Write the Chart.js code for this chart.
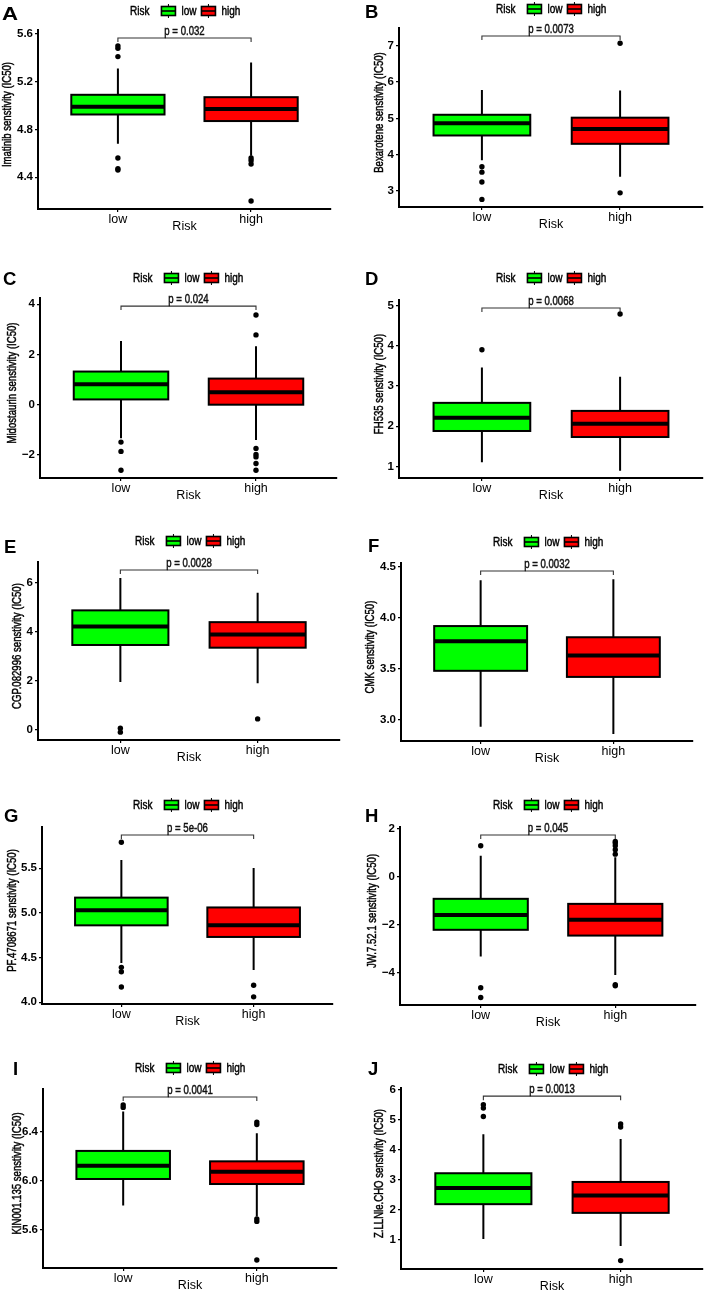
<!DOCTYPE html>
<html>
<head>
<meta charset="utf-8">
<script src="https://cdn.jsdelivr.net/npm/chart.js@4.4.1/dist/chart.umd.min.js"></script>
<style>
  html, body { margin: 0; padding: 0; background: #fff; overflow: hidden; }
  #fig { position: relative; width: 706px; height: 1292px; }
  #fig canvas { position: absolute; }
</style>
</head>
<body>
<div id="fig"></div>
<script>
// ═══════════════════════════════════════
//  data
// ═══════════════════════════════════════
const riskGroups   = ["low", "high"];
const groupColors  = ["#00ff00", "#ff0000"];
const panelLetters = ["A", "B", "C", "D", "E", "F", "G", "H", "I", "J"];
const drugs        = ["Imatinib", "Bexarotene", "Midostaurin", "FH535", "CGP.082996",
                      "CMK", "PF.4708671", "JW.7.52.1", "KIN001.135", "Z.LLNle.CHO"];
const pValues      = ["0.032", "0.0073", "0.024", "0.0068", "0.0028",
                      "0.0032", "5e-06", "0.045", "0.0041", "0.0013"];

// [lower whisker, Q1, median, Q3, upper whisker]
const lowStats = [
  [4.68, 4.925, 4.99, 5.09, 5.31],
  [3.85, 4.53, 4.87, 5.10, 5.78],
  [-1.34, 0.21, 0.81, 1.32, 2.54],
  [1.10, 1.88, 2.21, 2.58, 3.46],
  [1.95, 3.46, 4.21, 4.87, 6.19],
  [2.93, 3.48, 3.77, 3.92, 4.37],
  [4.44, 4.86, 5.03, 5.17, 5.59],
  [-3.33, -2.22, -1.60, -0.93, 0.86],
  [5.80, 6.016, 6.125, 6.245, 6.566],
  [1.03, 2.19, 2.73, 3.22, 4.52]
];
const highStats = [
  [4.58, 4.87, 4.97, 5.07, 5.36],
  [3.39, 4.30, 4.71, 5.02, 5.77],
  [-1.41, 0.0, 0.50, 1.04, 2.33],
  [0.89, 1.73, 2.06, 2.38, 3.23],
  [1.90, 3.35, 3.89, 4.39, 5.59],
  [2.86, 3.42, 3.63, 3.81, 4.38],
  [4.36, 4.73, 4.86, 5.06, 5.50],
  [-4.10, -2.46, -1.80, -1.14, 0.80],
  [5.71, 5.975, 6.076, 6.16, 6.39],
  [0.80, 1.90, 2.48, 2.93, 4.36]
];
const lowOutliers = [
  [5.50, 5.48, 5.41, 4.56, 4.47, 4.46],
  [3.67, 3.52, 3.25, 2.77],
  [-1.49, -1.86, -2.61],
  [3.90],
  [0.07, -0.09],
  [],
  [5.79, 4.39, 4.34, 4.17],
  [1.28, -4.63, -5.04],
  [6.62, 6.60],
  [5.50, 5.39, 5.11]
];
const highOutliers = [
  [4.56, 4.54, 4.51, 4.20],
  [7.07, 2.95],
  [3.57, 2.78, -1.74, -1.98, -2.08, -2.34, -2.61],
  [4.79],
  [0.45],
  [],
  [4.19, 4.06],
  [1.46, 1.39, 1.28, 1.11, 0.93, -4.51, -4.55],
  [6.48, 6.46, 5.69, 5.67, 5.355],
  [4.86, 4.76, 0.31]
];

const yTicks = [
  [4.4, 4.8, 5.2, 5.6],
  [3, 4, 5, 6, 7],
  [-2, 0, 2, 4],
  [1, 2, 3, 4, 5],
  [0, 2, 4, 6],
  [3.0, 3.5, 4.0, 4.5],
  [4.0, 4.5, 5.0, 5.5],
  [-4, -2, 0, 2],
  [5.6, 6.0, 6.4],
  [1, 2, 3, 4, 5, 6]
];
const yTickLabels = [
  ["4.4", "4.8", "5.2", "5.6"],
  ["3", "4", "5", "6", "7"],
  ["\u22122", "0", "2", "4"],
  ["1", "2", "3", "4", "5"],
  ["0", "2", "4", "6"],
  ["3.0", "3.5", "4.0", "4.5"],
  ["4.0", "4.5", "5.0", "5.5"],
  ["\u22124", "\u22122", "0", "2"],
  ["5.6", "6.0", "6.4"],
  ["1", "2", "3", "4", "5", "6"]
];
const yLimits = [
  [4.133, 5.633], [2.56, 7.49], [-2.92, 4.25], [0.71, 5.14], [-0.41, 6.84],
  [2.79, 4.54], [3.98, 5.96], [-5.35, 2.06], [5.29, 6.75], [0.03, 6.06]
];

// ═══════════════════════════════════════
//  panel geometry (local px inside each canvas)
// ═══════════════════════════════════════
const rowTops = [0, 255, 510, 770, 1030];
const geo = [
  { axisX: 38, top: 30, axisY: 209, right: 331, titleX: 7.5, legX: 130, legY: 11, letX: 2,  letY: 20, letW: 1.2 },
  { axisX: 46, top: 28, axisY: 207, right: 350, titleX: 27,  legX: 143, legY: 9,  letX: 12, letY: 18, letW: 1 },
  { axisX: 40, top: 43, axisY: 223, right: 337, titleX: 13,  legX: 133, legY: 23, letX: 3,  letY: 30, letW: 1 },
  { axisX: 46, top: 45, axisY: 223, right: 350, titleX: 27,  legX: 143, legY: 23, letX: 12, letY: 30, letW: 1 },
  { axisX: 38, top: 52, axisY: 230, right: 340, titleX: 18,  legX: 135, legY: 31, letX: 4,  letY: 43, letW: 1 },
  { axisX: 48, top: 53, axisY: 231, right: 340, titleX: 18,  legX: 140, legY: 32, letX: 15, letY: 42, letW: 1 },
  { axisX: 42, top: 57, axisY: 234, right: 333, titleX: 13,  legX: 133, legY: 35, letX: 4,  letY: 52, letW: 1 },
  { axisX: 47, top: 57, axisY: 235, right: 343, titleX: 20,  legX: 140, legY: 35, letX: 12, letY: 52, letW: 1 },
  { axisX: 43, top: 59, axisY: 238, right: 337, titleX: 18,  legX: 135, legY: 38, letX: 13, letY: 45, letW: 1 },
  { axisX: 48, top: 58, axisY: 239, right: 350, titleX: 27,  legX: 145, legY: 39, letX: 15, letY: 45, letW: 1 }
];

const SANS     = "'Liberation Sans', Arial, sans-serif";
const BOX_HALF = 0.35;

// narrow text: Liberation Sans squeezed sideways, like the Arial Narrow in the figure
function narrowText(ctx, text, x, y, size, align) {
  ctx.save();
  ctx.font = size + "px " + SANS;
  const w = ctx.measureText(text).width * 0.8;
  ctx.translate(x, y);
  ctx.scale(0.8, 1);
  ctx.textAlign = align;
  ctx.lineWidth = 0.45;
  ctx.strokeStyle = ctx.fillStyle;
  ctx.fillText(text, 0, 0);
  ctx.strokeText(text, 0, 0);
  ctx.restore();
  return w;
}

// ── boxes, bracket, legend, titles, letter ──
function panelPlugin(i, g) {
  return {
    id: "panel" + i,
    beforeDatasetsDraw(chart) {
      const { ctx, scales: { x, y } } = chart;
      [lowStats[i], highStats[i]].forEach((s, k) => {
        const cx = x.getPixelForValue(k + 1);
        const x0 = x.getPixelForValue(k + 1 - BOX_HALF);
        const x1 = x.getPixelForValue(k + 1 + BOX_HALF);
        const [lo, q1, md, q3, hi] = s.map(v => y.getPixelForValue(v));
        ctx.save();
        ctx.strokeStyle = "#000";
        ctx.lineWidth = 2;
        ctx.beginPath();
        ctx.moveTo(cx, lo); ctx.lineTo(cx, q1);
        ctx.moveTo(cx, q3); ctx.lineTo(cx, hi);
        ctx.stroke();
        ctx.fillStyle = groupColors[k];
        ctx.fillRect(x0, q3, x1 - x0, q1 - q3);
        ctx.lineWidth = 2;
        ctx.strokeRect(x0, q3, x1 - x0, q1 - q3);
        ctx.lineWidth = 4;
        ctx.beginPath();
        ctx.moveTo(x0, md); ctx.lineTo(x1, md);
        ctx.stroke();
        ctx.restore();
      });
    },
    afterDraw(chart) {
      const { ctx, chartArea, scales: { x, y } } = chart;
      const [ymin, ymax] = yLimits[i];
      const by = y.getPixelForValue(ymax - 0.045 * (ymax - ymin));
      const bx0 = x.getPixelForValue(1), bx1 = x.getPixelForValue(2);
      ctx.save();
      // p-value bracket
      ctx.strokeStyle = "#333";
      ctx.lineWidth = 1.1;
      ctx.beginPath();
      ctx.moveTo(bx0, by + 4); ctx.lineTo(bx0, by); ctx.lineTo(bx1, by); ctx.lineTo(bx1, by + 4);
      ctx.stroke();
      ctx.fillStyle = "#111";
      ctx.textBaseline = "alphabetic";
      narrowText(ctx, "p = " + pValues[i], (bx0 + bx1) / 2, by - 3, 12, "center");

      // y title, rotated
      ctx.save();
      ctx.translate(g.titleX, (chartArea.top + chartArea.bottom) / 2 - 5);
      ctx.rotate(-Math.PI / 2);
      ctx.fillStyle = "#000";
      ctx.textBaseline = "middle";
      narrowText(ctx, drugs[i] + " senstivity (IC50)", 0, 0, 12, "center");
      ctx.restore();

      // legend
      ctx.textBaseline = "middle";
      let lx = g.legX;
      ctx.fillStyle = "#000";
      lx += narrowText(ctx, "Risk", lx, g.legY + 0.5, 12.5, "left") + 12;
      riskGroups.forEach((name, k) => {
        const iy = g.legY;
        ctx.strokeStyle = "#000";
        ctx.lineWidth = 1;
        ctx.beginPath();
        ctx.moveTo(lx + 7, iy - 7); ctx.lineTo(lx + 7, iy + 7);
        ctx.stroke();
        ctx.fillStyle = groupColors[k];
        ctx.fillRect(lx, iy - 4.5, 14, 9);
        ctx.lineWidth = 1.6;
        ctx.strokeRect(lx, iy - 4.5, 14, 9);
        ctx.beginPath();
        ctx.moveTo(lx, iy); ctx.lineTo(lx + 14, iy);
        ctx.stroke();
        lx += 20;
        ctx.fillStyle = "#000";
        lx += narrowText(ctx, name, lx, g.legY + 0.5, 12.5, "left") + 5;
      });

      // panel letter
      ctx.font = "bold 18.5px " + SANS;
      ctx.textAlign = "left";
      ctx.textBaseline = "alphabetic";
      ctx.fillStyle = "#000";
      ctx.translate(g.letX, g.letY);
      ctx.scale(g.letW, 1);
      ctx.fillText(panelLetters[i], 0, 0);
      ctx.restore();
    }
  };
}

function makePanel(i) {
  const g = geo[i];
  const w = 353;
  const h = g.axisY + 27;
  const canvas = document.createElement("canvas");
  canvas.width = w;
  canvas.height = h;
  canvas.style.left = (i % 2) * 353 + "px";
  canvas.style.top = rowTops[Math.floor(i / 2)] + "px";
  document.getElementById("fig").appendChild(canvas);

  const xFont = 12.5;
  const xH = 18 + xFont * 1.2 / 2;
  const padBottom = Math.max(0, h - g.axisY - xH);

  const pts = (vals, xv) => vals.map(v => ({ x: xv, y: v }));

  return new Chart(canvas, {
    type: "scatter",
    data: {
      datasets: [
        { label: "low",  data: pts(lowOutliers[i], 1) },
        { label: "high", data: pts(highOutliers[i], 2) }
      ]
    },
    options: {
      responsive: false,
      animation: false,
      events: [],
      layout: { padding: { left: 0, top: g.top, right: w - g.right, bottom: padBottom } },
      elements: { point: { radius: 2.7, backgroundColor: "#000", borderWidth: 0, hoverRadius: 2.7 } },
      plugins: { legend: { display: false }, tooltip: { enabled: false } },
      scales: {
        x: {
          type: "linear", min: 0.4, max: 2.6,
          afterBuildTicks: s => { s.ticks = riskGroups.map((_, k) => ({ value: k + 1 })); },
          afterFit: s => { s.height = h - padBottom - g.axisY; },
          ticks: { callback: (v, k) => riskGroups[k], color: "#000", autoSkip: false, maxRotation: 0,
                   padding: 0, font: { family: SANS, size: 12.5 } },
          grid: { drawOnChartArea: false, tickLength: 3, color: "#000", lineWidth: 1.2 },
          border: { color: "#000", width: 2 },
          title: { display: true, text: "Risk", color: "#000", padding: 0, font: { family: SANS, size: xFont } }
        },
        y: {
          min: yLimits[i][0], max: yLimits[i][1],
          afterBuildTicks: s => { s.ticks = yTicks[i].map(v => ({ value: v })); },
          afterFit: s => { s.width = g.axisX; },
          ticks: { callback: (v, k) => yTickLabels[i][k], color: "#000", autoSkip: false, padding: 2,
                   font: { family: SANS, size: 11.5, weight: "bold" } },
          grid: { drawOnChartArea: false, tickLength: 3, color: "#000", lineWidth: 1.2 },
          border: { color: "#000", width: 2 }
        }
      }
    },
    plugins: [panelPlugin(i, g)]
  });
}

drugs.forEach((_, i) => makePanel(i));
</script>
</body>
</html>
